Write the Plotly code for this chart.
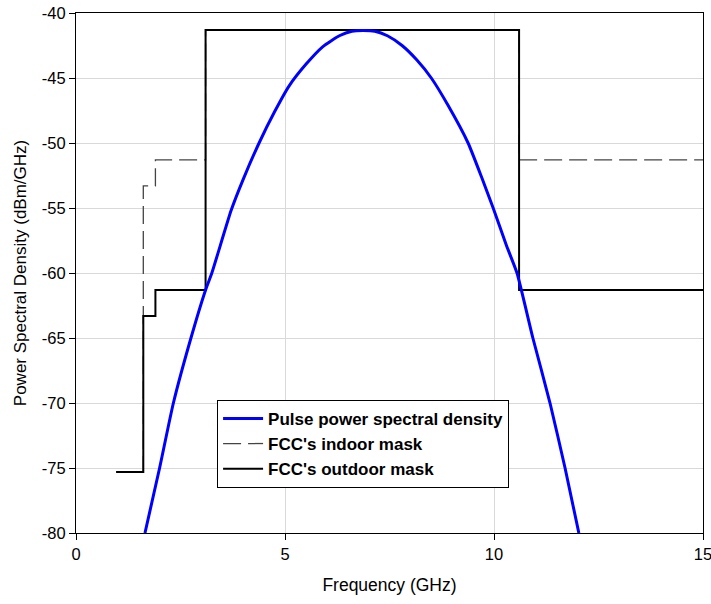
import plotly.graph_objects as go

# Pulse power spectral density
pulse_freq = [1.65, 2.0, 2.33, 2.75, 3.1, 3.25, 3.71, 4.0, 4.38, 4.75, 5.1, 5.5, 5.9, 6.3, 6.6, 6.87,
              7.15, 7.45, 7.8, 8.15, 8.5, 8.9, 9.38, 9.7, 9.98, 10.3, 10.55, 10.93, 11.34, 11.70, 12.03]
pulse_psd = [-80.0, -75.0, -70.0, -65.0, -61.3, -60.0, -55.2, -52.8, -50.0, -47.6, -45.6, -43.95, -42.6, -41.75,
             -41.4, -41.35, -41.4, -41.75, -42.5, -43.6, -45.0, -47.1, -50.0, -52.6, -55.0, -57.9, -60.0,
             -65.0, -70.0, -75.0, -80.0]

# FCC masks (step breakpoints)
mask_freq = [0.96, 1.61, 1.9, 3.1, 10.6, 15.0]
indoor_mask = [-75.3, -53.3, -51.3, -41.3, -51.3, -51.3]
outdoor_mask = [-75.3, -63.3, -61.3, -41.3, -61.3, -61.3]

x_ticks = [0, 5, 10, 15]
y_ticks = [-80, -75, -70, -65, -60, -55, -50, -45, -40]

FONT = "Arial, Liberation Sans, sans-serif"

fig = go.Figure()
fig.add_trace(go.Scatter(x=mask_freq, y=indoor_mask, mode="lines", line_shape="hv",
                         name="FCC's indoor mask", legendrank=2,
                         line=dict(color="#444444", width=1.3, dash="18px,7px")))
fig.add_trace(go.Scatter(x=mask_freq, y=outdoor_mask, mode="lines", line_shape="hv",
                         name="FCC's outdoor mask", legendrank=3,
                         line=dict(color="black", width=2)))
fig.add_trace(go.Scatter(x=pulse_freq, y=pulse_psd, mode="lines", line_shape="spline",
                         line_smoothing=0.5,
                         name="Pulse power spectral density", legendrank=1,
                         line=dict(color="#0000FF", width=3)))

fig.update_layout(
    width=711, height=604,
    margin=dict(l=76, r=8, t=13, b=71),
    paper_bgcolor="white", plot_bgcolor="white",
    font=dict(family=FONT, color="black", size=16),
    showlegend=True,
    legend=dict(x=0.225, y=0.256, xanchor="left", yanchor="top",
                bgcolor="white", bordercolor="black", borderwidth=1,
                font=dict(family=FONT, size=17, color="black", weight="bold"),
                tracegroupgap=0, itemwidth=40),
)
fig.update_xaxes(range=[0, 15], tickvals=x_ticks, ticktext=[str(v) for v in x_ticks],
                 showgrid=True, gridcolor="#d9d9d9", gridwidth=1,
                 showline=True, linecolor="black", linewidth=1, mirror=True,
                 ticks="outside", ticklen=6, tickcolor="black", zeroline=False, automargin=False,
                 ticklabeloverflow="allow",
                 title=dict(text="Frequency (GHz)", font=dict(size=17.5), standoff=16),
                 tickfont=dict(size=16.5))
fig.update_yaxes(range=[-80, -40], tickvals=y_ticks, ticktext=[str(v) for v in y_ticks],
                 showgrid=True, gridcolor="#d9d9d9", gridwidth=1,
                 showline=True, linecolor="black", linewidth=1, mirror=True,
                 ticks="outside", ticklen=6, tickcolor="black", zeroline=False, automargin=False,
                 ticklabeloverflow="allow",
                 title=dict(text="Power Spectral Density (dBm/GHz)", font=dict(size=17), standoff=10),
                 tickfont=dict(size=16.5))

fig.write_html("out.html")
